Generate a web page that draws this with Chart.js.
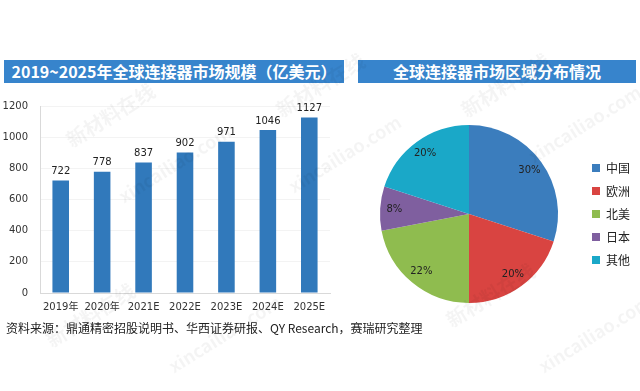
<!DOCTYPE html>
<html>
<head>
<meta charset="utf-8">
<script src="https://cdn.jsdelivr.net/npm/chart.js@4/dist/chart.umd.min.js"></script>
<style>
  body { margin: 0; width: 640px; height: 391px; background: #fff; position: relative; overflow: hidden;
         font-family: 'Noto Sans CJK SC', 'Noto Sans', sans-serif; }
  .band { position: absolute; top: 60px; height: 23px; background: #3784cc; color: #fff;
          font-weight: bold; font-size: 16px; line-height: 23px; text-align: center; }
  #barWrap { position: absolute; left: 0; top: 88px; width: 335px; height: 230px; }
  #pieWrap { position: absolute; left: 348px; top: 110px; width: 292px; height: 210px; }
  .source { position: absolute; left: 6px; top: 319px; font-size: 12px; color: #222; }
  .wm { position: absolute; color: rgba(0,0,0,0.045); font-weight: bold; transform: rotate(-32deg);
        white-space: nowrap; pointer-events: none; }
</style>
</head>
<body>
<div class="band" style="left:4px;width:340px;">2019~2025年全球连接器市场规模（亿美元）</div>
<div class="band" style="left:358px;width:278px;">全球连接器市场区域分布情况</div>
<div id="barWrap"><canvas id="chartBar"></canvas></div>
<div id="pieWrap"><canvas id="chartPie"></canvas></div>
<div class="source">资料来源：鼎通精密招股说明书、华西证券研报、QY Research，赛瑞研究整理</div>

<div class="wm" style="left:60px;top:100px;font-size:20px;">新材料在线</div>
<div class="wm" style="left:110px;top:150px;font-size:18px;">xincailiao.com</div>
<div class="wm" style="left:270px;top:70px;font-size:20px;">新材料在线</div>
<div class="wm" style="left:280px;top:140px;font-size:18px;">xincailiao.com</div>
<div class="wm" style="left:455px;top:70px;font-size:20px;">新材料在线</div>
<div class="wm" style="left:520px;top:110px;font-size:18px;">xincailiao.com</div>
<div class="wm" style="left:40px;top:300px;font-size:20px;">新材料在线</div>
<div class="wm" style="left:160px;top:320px;font-size:18px;">xincailiao.com</div>
<div class="wm" style="left:440px;top:280px;font-size:20px;">新材料在线</div>
<div class="wm" style="left:530px;top:320px;font-size:18px;">xincailiao.com</div>

<script>
Chart.defaults.font.family = "'DejaVu Sans', 'Noto Sans CJK SC', sans-serif";
Chart.defaults.color = '#333';

const years = ['2019年', '2020年', '2021E', '2022E', '2023E', '2024E', '2025E'];
const marketSize = [722, 778, 837, 902, 971, 1046, 1127];

const regions = ['中国', '欧洲', '北美', '日本', '其他'];
const regionShare = [30, 20, 22, 8, 20];
const regionColors = ['#3b7dbd', '#d94441', '#8fbc4f', '#7f5f9f', '#1aa8c8'];

// simple value labels (no datalabels plugin offline)
const valueLabels = {
    id: 'valueLabels',
    afterDatasetsDraw(chart, args, opts) {
        const ctx = chart.ctx;
        ctx.save();
        ctx.font = '10px ' + Chart.defaults.font.family;
        ctx.fillStyle = '#222';
        ctx.textAlign = 'center';
        ctx.textBaseline = 'middle';
        chart.getDatasetMeta(0).data.forEach((el, i) => {
            const v = chart.data.datasets[0].data[i];
            if (chart.config.type === 'bar') {
                ctx.fillText(v, el.x, el.y - 9);
            } else {
                const mid = (el.startAngle + el.endAngle) / 2;
                const r = el.outerRadius * 0.84;
                ctx.fillText(v + '%', el.x + Math.cos(mid) * r, el.y + Math.sin(mid) * r);
            }
        });
        ctx.restore();
    }
};

const chartBar = document.querySelector('#chartBar').getContext('2d');
const myChart = new Chart(chartBar, {
    type: 'bar',
    data: {
        labels: years,
        datasets: [{
            data: marketSize,
            backgroundColor: '#3179bb',
            barPercentage: 0.4,
            categoryPercentage: 1
        }]
    },
    options: {
        responsive: true,
        maintainAspectRatio: false,
        animation: false,
        layout: { padding: { top: 11, right: 5, bottom: 0, left: 0 } },
        plugins: { legend: { display: false }, tooltip: { enabled: false } },
        scales: {
            y: {
                min: 0, max: 1200,
                ticks: { stepSize: 200, padding: 12, font: { size: 10 }, color: '#333',
                         callback: (v) => String(v) },
                grid: { color: '#f3f3f3', drawTicks: false },
                border: { color: '#d9d9d9' },
                afterFit(scale) { scale.width = 40; }
            },
            x: {
                ticks: { padding: 8, font: { size: 10 }, color: '#333', maxRotation: 0 },
                grid: { display: false, drawTicks: false },
                border: { color: '#d9d9d9' },
                afterFit(scale) { scale.height = 25; }
            }
        }
    },
    plugins: [valueLabels]
});

const chartPie = document.querySelector('#chartPie').getContext('2d');
const myChart2 = new Chart(chartPie, {
    type: 'pie',
    data: {
        labels: regions,
        datasets: [{
            data: regionShare,
            backgroundColor: regionColors,
            borderWidth: 0
        }]
    },
    options: {
        responsive: true,
        maintainAspectRatio: false,
        animation: false,
        layout: { padding: { top: 15, bottom: 17, left: 9, right: 0 } },
        plugins: {
            tooltip: { enabled: false },
            legend: {
                position: 'right',
                labels: { boxWidth: 8, boxHeight: 8, padding: 11,
                          font: { size: 12, family: "'Noto Sans CJK SC', sans-serif" }, color: '#222' }
            }
        }
    },
    plugins: [valueLabels]
});
</script>
</body>
</html>
